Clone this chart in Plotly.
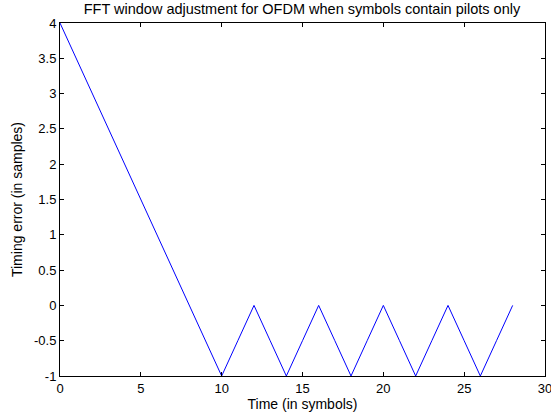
import plotly.graph_objects as go

time_symbols = list(range(0, 29))
timing_error = [4, 3.5, 3, 2.5, 2, 1.5, 1, 0.5, 0, -0.5, -1,
                -0.5, 0, -0.5, -1, -0.5, 0, -0.5, -1, -0.5, 0,
                -0.5, -1, -0.5, 0, -0.5, -1, -0.5, 0]

x_ticks = [0, 5, 10, 15, 20, 25, 30]
y_ticks = [-1, -0.5, 0, 0.5, 1, 1.5, 2, 2.5, 3, 3.5, 4]
y_tick_labels = ["-1", "-0.5", "0", "0.5", "1", "1.5", "2", "2.5", "3", "3.5", "4"]

fam = "Liberation Sans, Arial, sans-serif"
tick_font = dict(family=fam, size=13, color="black")
label_font = dict(family=fam, size=14, color="black")
title_font = dict(family=fam, size=14.5, color="black")

fig = go.Figure()
fig.add_trace(go.Scatter(x=time_symbols, y=timing_error, mode="lines",
                         line=dict(color="#0000ff", width=1), showlegend=False))

axis_common = dict(showgrid=False, zeroline=False, showline=True, linecolor="black",
                   linewidth=1, mirror="allticks", ticks="inside", ticklen=4,
                   tickcolor="black", tickfont=tick_font, automargin=False)

fig.update_xaxes(range=[0, 30], tickvals=x_ticks, ticktext=[str(v) for v in x_ticks],
                 ticklabeloverflow="allow",
                 title=dict(text="Time (in symbols)", font=label_font, standoff=3), **axis_common)
fig.update_yaxes(range=[-1, 4], tickvals=y_ticks, ticktext=y_tick_labels,
                 title=dict(text="Timing error (in samples)", font=label_font, standoff=8), **axis_common)

fig.update_layout(
    width=551, height=419,
    margin=dict(l=60, r=6, t=23, b=43),
    paper_bgcolor="white", plot_bgcolor="white",
    font=tick_font,
    title=dict(text="FFT window adjustment for OFDM when symbols contain pilots only",
               x=0.548, xanchor="center", y=0.99, yanchor="top", font=title_font),
)

fig.write_html("out.html")
